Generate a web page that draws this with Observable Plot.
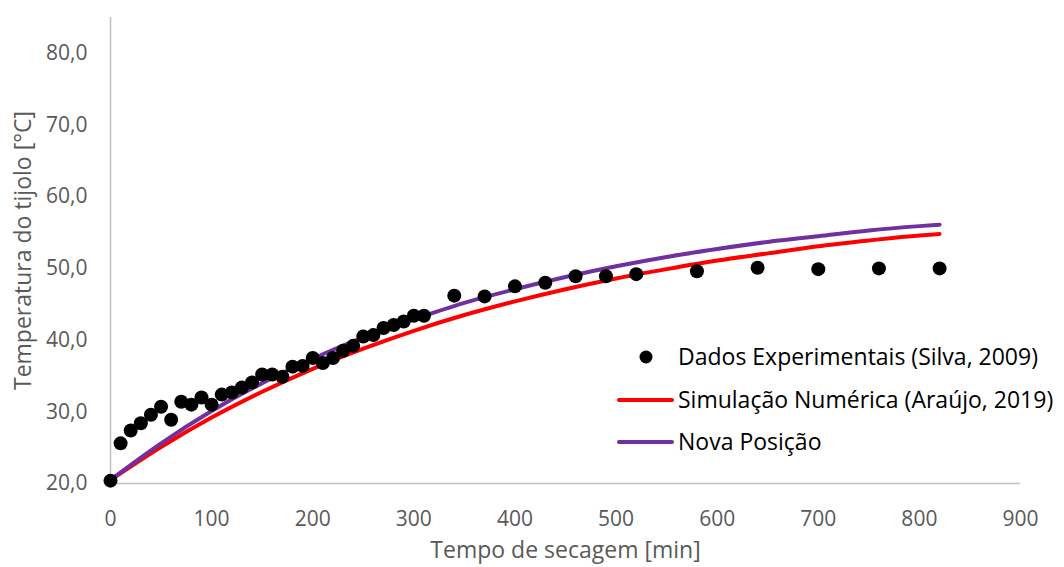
<!DOCTYPE html>
<html>
<head>
<meta charset="utf-8">
<script src="https://cdn.jsdelivr.net/npm/d3@7"></script>
<script src="https://cdn.jsdelivr.net/npm/@observablehq/plot@0.6"></script>
<style>
  html, body { margin: 0; padding: 0; background: #ffffff; }
  #chart { width: 1064px; height: 567px; overflow: hidden; }
</style>
</head>
<body>
<div id="chart"></div>
<script>
// ---- Data ----
const expTime = [0,10,20,30,40,50,60,70,80,90,100,110,120,130,140,150,160,170,180,190,200,210,220,230,240,250,260,270,280,290,300,310,340,370,400,430,460,490,520,580,640,700,760,820];
const expTemp = [20.4,25.6,27.4,28.4,29.6,30.7,28.9,31.4,31.0,32.0,31.0,32.4,32.7,33.4,34.1,35.2,35.2,34.9,36.3,36.4,37.5,36.8,37.5,38.5,39.2,40.5,40.7,41.7,42.1,42.6,43.4,43.4,46.2,46.1,47.5,48.0,48.9,48.9,49.2,49.6,50.1,49.9,50.0,50.0];

const simTime = [0,50,100,150,200,250,300,350,400,450,500,550,600,650,700,750,800,820];
const simTemp = [20.5,25.1,29.2,32.8,36.0,38.8,41.3,43.5,45.4,47.1,48.6,49.9,51.1,52.1,53.1,53.9,54.6,54.8];

const novaTime = [0,50,100,150,200,250,300,350,400,450,500,550,600,650,700,750,800,820];
const novaTemp = [20.5,25.6,30.1,34.0,37.4,40.4,42.9,45.2,47.1,48.8,50.3,51.6,52.7,53.7,54.5,55.3,55.9,56.1];

const xTicks = [0,100,200,300,400,500,600,700,800,900];
const yTicks = [20,30,40,50,60,70,80];

const seriesNames = ["Dados Experimentais (Silva, 2009)", "Simulação Numérica (Araújo, 2019)", "Nova Posição"];
const xTitle = "Tempo de secagem [min]";
const yTitle = "Temperatura do tijolo [°C]";

// ---- Tables built from the arrays ----
const expData = expTime.map((t, i) => ({t, T: expTemp[i]}));
const simData = simTime.map((t, i) => ({t, T: simTemp[i]}));
const novaData = novaTime.map((t, i) => ({t, T: novaTemp[i]}));

const FONT = "'Open Sans', 'Noto Sans', sans-serif";
const GRAY = "#595959";
const AXIS = "#bfbfbf";

const plot = Plot.plot({
  width: 1064,
  height: 567,
  marginLeft: 110,
  marginRight: 44,
  marginTop: 17,
  marginBottom: 84,
  style: {fontFamily: FONT, fontSize: "21px", color: GRAY, background: "#ffffff", overflow: "visible"},
  x: {domain: [0, 900], ticks: xTicks, label: null},
  y: {domain: [20, 85], ticks: yTicks, label: null},
  marks: [
    Plot.axisX({ticks: xTicks, tickSize: 0, tickPadding: 28, fontSize: 21, label: null, tickFormat: d => String(d)}),
    Plot.axisY({ticks: yTicks, tickSize: 0, tickPadding: 23, fontSize: 21, label: null, tickFormat: d => d.toFixed(1).replace(".", ",")}),
    Plot.ruleY([20], {stroke: AXIS, strokeWidth: 1.5}),
    Plot.ruleX([0], {stroke: AXIS, strokeWidth: 1.5}),
    Plot.text([xTitle], {frameAnchor: "bottom", dy: 74, fontSize: 23, fill: GRAY, textAnchor: "middle"}),
    Plot.text([yTitle], {frameAnchor: "left", dx: -87, rotate: -90, fontSize: 23, fill: GRAY, textAnchor: "middle"}),
    Plot.line(simData, {x: "t", y: "T", stroke: "#ff0000", strokeWidth: 4, curve: "monotone-x"}),
    Plot.line(novaData, {x: "t", y: "T", stroke: "#7030a0", strokeWidth: 4, curve: "monotone-x"}),
    Plot.dot(expData, {x: "t", y: "T", r: 7, fill: "#000000", stroke: "none"})
  ]
});

document.getElementById("chart").appendChild(plot);

// ---- Legend (inside the plot area, right side) ----
const svg = d3.select(plot);
const lg = svg.append("g").attr("class", "legend")
  .attr("font-family", FONT).attr("font-size", 23).attr("text-anchor", "start");
const rows = [
  {name: seriesNames[0], type: "dot", color: "#000000", y: 357},
  {name: seriesNames[1], type: "line", color: "#ff0000", y: 400},
  {name: seriesNames[2], type: "line", color: "#7030a0", y: 442}
];
rows.forEach(r => {
  if (r.type === "dot") {
    lg.append("circle").attr("cx", 646).attr("cy", r.y).attr("r", 6.5).attr("fill", r.color);
  } else {
    lg.append("line").attr("x1", 619).attr("x2", 672).attr("y1", r.y).attr("y2", r.y)
      .attr("stroke", r.color).attr("stroke-width", 4).attr("stroke-linecap", "round");
  }
  lg.append("text").attr("x", 678).attr("y", r.y).attr("dy", "0.35em")
    .attr("text-anchor", "start").attr("fill", "#000000").text(r.name);
});
</script>
</body>
</html>
